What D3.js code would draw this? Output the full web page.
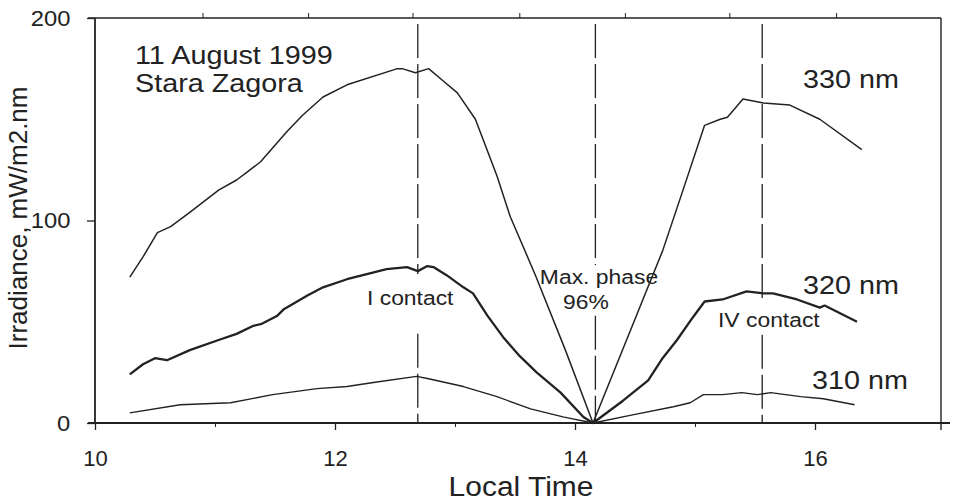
<!DOCTYPE html>
<html>
<head>
<meta charset="utf-8">
<script src="https://cdn.jsdelivr.net/npm/d3@7"></script>
<style>
body { margin: 0; background: #fff; }
text { font-family: "Liberation Sans", Arial, sans-serif; fill: #222; }
</style>
</head>
<body>
<div class="graphic"></div>
<script>
// local time (h) and irradiance (mW/m2.nm)
var t330 = [10.29,10.40,10.52,10.63,10.79,11.03,11.18,11.27,11.38,11.60,11.73,11.90,12.10,12.52,12.56,12.67,12.78,12.90,13.02,13.17,13.35,13.46,13.67,13.92,14.15,14.73,14.90,15.08,15.21,15.27,15.40,15.57,15.79,16.04,16.39]
var v330 = [72,82,94,97,104,115,120,124,129,144,152,161,167,175,175,173,175,169,163,150,122,102,73,36,0,85,115,147,150,151,160,158,157,150,135]

var t320 = [10.29,10.40,10.50,10.60,10.79,11.03,11.18,11.32,11.39,11.52,11.57,11.77,11.90,12.10,12.43,12.60,12.69,12.77,12.82,12.93,13.07,13.15,13.27,13.40,13.54,13.68,13.88,14.07,14.15,14.40,14.61,14.73,14.85,14.98,15.08,15.23,15.43,15.57,15.65,15.85,16.04,16.08,16.35]
var v320 = [24,29,32,31,36,41,44,48,49,53,56,63,67,71,76,77,75,77.5,77,73,67,64,53,42.5,33,25,15,3,0,11,21,32,41,52,60,61,65,64,64,61,57,58,50]

var t310 = [10.29,10.71,11.13,11.48,11.85,12.10,12.32,12.68,12.77,13.07,13.35,13.63,13.90,14.15,14.48,14.82,14.96,15.07,15.23,15.39,15.52,15.63,15.88,16.07,16.33]
var v310 = [5,9,10,14,17,18,20,23,22,18,13,7,3,0,4,8,10,14,14,15,14,15,13,12,9]

// eclipse contacts: I contact, maximum phase, IV contact
var contactTimes = [12.69, 14.17, 15.56]

var xMajor = [10, 12, 14, 16]
var xMinor = [11, 13, 15]
var topTicks = [10.9, 11.78, 12.65, 13.54, 14.42, 15.29, 16.18]
var yTicks = [0, 100, 200]

var svg_width = 953, svg_height = 501

var svg = d3.select(".graphic")
	.append("svg")
	.attr("width", svg_width)
	.attr("height", svg_height)

var x = d3.scaleLinear().domain([10, 17.05]).range([95, 941])
var y = d3.scaleLinear().domain([0, 200]).range([423, 18])

var ink = "#222"

// the scanned lettering is a bit wider than Arial, so stretch it sideways
function place(sel, px, py, sx) {
	return sel.attr("transform", "translate(" + px + "," + py + ") scale(" + sx + ",1)")
}

// frame
var frame = svg.append("g").attr("stroke", ink).attr("stroke-width", 1.4)
frame.append("line").attr("x1", 88).attr("x2", x.range()[1]).attr("y1", y(200)).attr("y2", y(200))
frame.append("line").attr("x1", x.range()[1]).attr("x2", x.range()[1]).attr("y1", y(200)).attr("y2", y(0) + 7)
frame.append("line").attr("x1", 88).attr("x2", 950).attr("y1", y(0)).attr("y2", y(0)).attr("stroke-width", 2)
frame.append("line").attr("x1", x(10)).attr("x2", x(10)).attr("y1", y(200)).attr("y2", y(0)).attr("stroke-width", 1.8)

// top ticks
svg.append("g").selectAll("line")
	.data(topTicks).enter().append("line")
	.attr("x1", function(d){ return x(d) }).attr("x2", function(d){ return x(d) })
	.attr("y1", y(200)).attr("y2", y(200) - 5)
	.attr("stroke", ink).attr("stroke-width", 1)

// bottom axis
var xAxis = svg.append("g")
	.attr("transform", "translate(0," + y(0) + ")")
	.call(d3.axisBottom(x).tickValues(xMajor).tickSize(7).tickPadding(20).tickFormat(d3.format("d")))
xAxis.select(".domain").remove()
xAxis.selectAll("line").attr("stroke", ink).attr("stroke-width", 1.3)
xAxis.selectAll("text").attr("font-size", "22px").attr("font-family", null).attr("fill", ink)

var xAxisMinor = svg.append("g")
	.attr("transform", "translate(0," + y(0) + ")")
	.call(d3.axisBottom(x).tickValues(xMinor).tickSize(4).tickFormat(""))
xAxisMinor.select(".domain").remove()
xAxisMinor.selectAll("line").attr("stroke", ink)

// left axis
var yAxis = svg.append("g")
	.attr("transform", "translate(" + x(10) + ",0)")
	.call(d3.axisLeft(y).tickValues(yTicks).tickSize(8).tickPadding(15))
yAxis.select(".domain").remove()
yAxis.selectAll("line").attr("stroke", ink).attr("stroke-width", 1.3)
yAxis.selectAll("text").attr("font-size", "22px").attr("font-family", null).attr("fill", ink)
	.attr("transform", "translate(-2,0) scale(1.08,1)")
	.attr("x", -21)

// axis titles
place(svg.append("text"), (x.range()[0] + x.range()[1]) / 2 + 3, 496, 1.07)
	.attr("text-anchor", "middle")
	.attr("font-size", "28px")
	.text("Local Time")

svg.append("text")
	.attr("transform", "translate(27,218) rotate(-90)")
	.attr("text-anchor", "middle")
	.attr("font-size", "26px")
	.text("Irradiance, mW/m2.nm")

// contact labels, then dashed lines broken around them
var contactLabels = [
	{ lines: [{ s: "I contact", x: 367, y: 305, anchor: "start" }], padTop: 12, padBottom: 24 },
	{ lines: [{ s: "Max. phase", x: 599, y: 284, anchor: "middle" }, { s: "96%", x: 586, y: 309, anchor: "middle" }], padTop: 0, padBottom: 2 },
	{ lines: [{ s: "IV contact", x: 718, y: 327, anchor: "start" }], padTop: 8, padBottom: 3 }
]

contactTimes.forEach(function(t, i) {
	var g = svg.append("g")
	contactLabels[i].lines.forEach(function(l) {
		var txt = g.append("text")
			.attr("text-anchor", l.anchor)
			.attr("font-size", "21px")
			.text(l.s)
		place(txt, l.x, l.y, 1.09)
	})
	var bb = g.node().getBBox()
	var segs = [[y(197), bb.y - contactLabels[i].padTop], [bb.y + bb.height + contactLabels[i].padBottom, y(0)]]
	svg.append("g").selectAll("line")
		.data(segs).enter().append("line")
		.attr("x1", x(t)).attr("x2", x(t))
		.attr("y1", function(d){ return d[0] })
		.attr("y2", function(d){ return d[1] })
		.attr("stroke", ink)
		.attr("stroke-width", 1.3)
		.attr("stroke-dasharray", "34,6")
})

// curves
var line = d3.line()
	.x(function(d){ return x(d[0]) })
	.y(function(d){ return y(d[1]) })

var series = [
	{ t: t330, v: v330, w: 1.5 },
	{ t: t320, v: v320, w: 2.3 },
	{ t: t310, v: v310, w: 1.4 }
]

svg.append("g").selectAll("path")
	.data(series).enter().append("path")
	.attr("d", function(s){ return line(d3.zip(s.t, s.v)) })
	.attr("fill", "none")
	.attr("stroke", ink)
	.attr("stroke-width", function(s){ return s.w })
	.attr("stroke-linejoin", "round")

// annotations
var notes = [
	{ s: "11 August 1999", x: 135, y: 64 },
	{ s: "Stara Zagora", x: 135, y: 92 },
	{ s: "330 nm", x: 803, y: 88 },
	{ s: "320 nm", x: 803, y: 294 },
	{ s: "310 nm", x: 812, y: 389 }
]
svg.append("g").selectAll("text")
	.data(notes).enter().append("text")
	.attr("font-size", "25px")
	.attr("transform", function(d){ return "translate(" + d.x + "," + d.y + ") scale(1.15,1)" })
	.text(function(d){ return d.s })
</script>
</body>
</html>
